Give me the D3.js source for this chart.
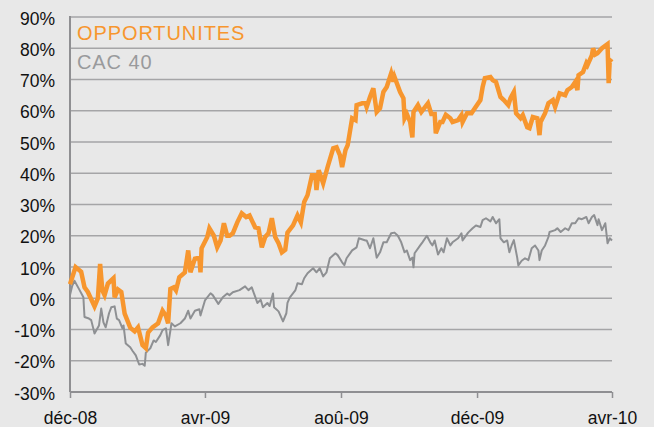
<!DOCTYPE html>
<html>
<head>
<meta charset="utf-8">
<script src="https://cdn.jsdelivr.net/npm/d3@7"></script>
<style>
  body { margin: 0; background: #e8e8e8; }
  svg { display: block; font-family: "Liberation Sans", Arial, sans-serif; }
</style>
</head>
<body>
<div id="chart"></div>
<script>
// performance since 1 Dec 2008, in % ; days counted from the start date
var startDate = new Date(2008, 11, 1);
var endDate = new Date(2010, 3, 1);

var oppDays = [0,5,10,13,16,22,25,27,29,31,34,39,40,43,46,49,54,58,61,64,65,68,70,74,79,83,86,88,90,93,95,98,103,106,108,112,116,117,118,123,125,129,132,135,138,141,143,146,150,154,158,161,166,169,172,175,178,181,184,187,190,193,195,200,204,207,210,213,217,220,221,223,227,231,236,239,242,244,247,249,253,256,257,262,265,266,269,272,275,278,281,284,288,290,291,296,299,300,302,305,307,308,312,315,318,321,324,327,328,332,334,337,341,343,348,351,352,356,360,363,368,370,372,377,379,382,385,386,389,393,395,398,400,404,406,410,412,415,419,421,422,426,429,433,435,439,444,446,450,453,455,456,460,463,464,468,469,471,473,477,482,483,484,486];
var oppValues = [4.5,10,8.5,3.5,2,-2.6,0,11,2.5,1,4.7,6.4,0.3,2.8,2,-4.9,-9.4,-10.6,-9.3,-13.5,-15,-16,-11,-9.3,-8,-4,-5.6,-8,3,3.5,2.5,6.7,8.3,15.3,8.3,12.7,13,8.3,16,19.5,22.4,20,16.3,18.5,24,20,20,20.8,24.3,27.2,26,26.5,22.7,22.4,16.3,19.6,20.8,25.6,19.6,17.6,14.7,15.5,21,23.3,26.5,24.3,30.8,33,39.4,39.4,34.6,41,36.8,42,48,48.3,45.8,42,47.4,49,57.6,57,61.8,62.4,62.4,61.2,64.4,67.2,59.6,60.8,66,67.6,72,69.3,70.8,66,64,57.6,59,56.4,51.5,59.6,61.8,59.6,61,62.4,59,59,52.8,56.4,56.4,58.7,57.6,56.4,57,58.6,56.4,59.2,59.2,60.8,63.4,67.6,70.4,70.8,69.8,69.2,65.6,64.4,63.4,61.8,64,66,59.2,57.6,58.6,54.7,54.4,58,57.6,52.2,56.4,59.2,62.4,63.4,61.2,65.6,65,66.6,67.6,69.2,66.6,71.4,72.4,75.2,74.6,77.8,80,78,78.4,80,81.3,68.8,76.2,75.6];

var cacDays = [0,2,4,8,12,13,17,19,22,26,28,30,32,35,37,40,42,44,47,48,50,54,56,59,62,65,67,68,72,75,77,81,83,86,88,91,94,99,103,106,108,112,116,117,121,126,128,133,137,141,143,146,152,157,160,163,168,171,173,177,179,182,183,187,191,194,195,197,202,204,208,210,213,218,221,224,227,230,233,238,240,244,246,248,253,257,259,265,266,269,272,275,278,281,284,288,291,294,297,300,302,305,307,308,309,314,316,320,323,325,327,330,333,335,338,341,343,348,351,352,357,361,364,368,370,373,377,379,382,385,386,389,392,394,396,398,401,402,405,408,411,414,417,420,421,423,426,429,430,435,437,440,444,447,450,453,456,459,463,465,468,470,473,474,477,480,482,484,486];
var cacValues = [1,4,5.6,3,0.3,-6,-6.5,-7,-11.3,-8.7,-3.3,-7.7,-9.3,-4.8,-2.9,-2.6,-6.5,-7,-9.6,-8.7,-14.5,-15.7,-16.8,-18.3,-21.2,-21,-21.6,-17.4,-16,-13.5,-14,-11.8,-10.2,-9.6,-15,-8,-9,-8,-6.5,-4,-6.5,-4,-3.5,-5.5,-0.7,1.6,1,-1.8,0.3,1.5,1,1.9,2.6,3.8,2.6,3.5,-1.5,-0.5,-2.9,-1.5,-2.5,1.5,-2.9,-4.2,-7.4,-4.8,-1.5,0.2,2.5,4.8,4.5,6.4,8,9.6,8.3,9.6,7,8.3,12.8,14.4,13.8,11.5,10.6,12.8,15.3,16.3,19.2,18.5,18.5,16,19.2,13,14.7,17.9,17.9,20.8,21,20,17.9,14.7,15.3,12.2,13,9.9,14.4,16.9,17.9,20,17.9,16.9,18.5,14,16,14.7,19.2,16.9,17.9,19.2,20.8,18.5,21,22.4,23.3,22.8,25,25.6,24.6,26,24,25.3,19.2,17.9,18.5,14.7,16.9,18.6,13,10.5,12,12.8,12.2,16,16.9,15.3,12.2,15.3,16.9,19.6,21.2,21.8,22.4,21.2,22.4,21.8,24,24,25.6,25.3,26,24,26,26.6,23.4,25.3,21.8,24,17.6,19.2,18.5];

var yTicks = [-30,-20,-10,0,10,20,30,40,50,60,70,80,90];
var xTickDates = [new Date(2008,11,1), new Date(2009,3,1), new Date(2009,7,1), new Date(2009,11,1), new Date(2010,3,1)];
var xTickLabels = ["déc-08","avr-09","aoû-09","déc-09","avr-10"];

var width = 654, height = 427;
var margin = {left: 70, right: 42, top: 17, bottom: 35};

var svg = d3.select("#chart").append("svg")
    .attr("width", width)
    .attr("height", height);

svg.append("rect").attr("width", width).attr("height", height).attr("fill", "#e8e8e8");

var x = d3.scaleTime()
    .domain([startDate, endDate])
    .range([margin.left, width - margin.right]);
var y = d3.scaleLinear()
    .domain([-30, 90])
    .range([height - margin.bottom, margin.top]);

// horizontal grid
svg.append("g").selectAll("line")
    .data(yTicks.filter(d => d > -30))
    .enter().append("line")
    .attr("x1", margin.left).attr("x2", width - margin.right)
    .attr("y1", d => y(d)).attr("y2", d => y(d))
    .attr("stroke", "#a5a5a7")
    .attr("stroke-width", 1.3);

// y labels
svg.append("g").selectAll("text")
    .data(yTicks)
    .enter().append("text")
    .attr("x", 55)
    .attr("y", d => y(d) + 7.5)
    .attr("text-anchor", "end")
    .attr("font-size", "17.5px")
    .attr("fill", "#111")
    .text(d => d + "%");

// x axis
var xAxis = d3.axisBottom(x)
    .tickValues(xTickDates)
    .tickSize(6)
    .tickFormat((d, i) => xTickLabels[i]);
var gx = svg.append("g")
    .attr("transform", "translate(0," + y(-30) + ")")
    .call(xAxis);
gx.select(".domain").attr("stroke", "#8f8f92").attr("stroke-width", 2).attr("d", "M" + margin.left + ",0H" + (width - margin.right));
gx.selectAll(".tick line").attr("stroke", "#8f8f92").attr("stroke-width", 1.5);
gx.selectAll(".tick text")
    .attr("font-family", "Liberation Sans, Arial, sans-serif")
    .attr("font-size", "17.5px")
    .attr("fill", "#111")
    .attr("y", 20)
    .attr("dy", "0.71em");

// y axis line
svg.append("line")
    .attr("x1", margin.left).attr("x2", margin.left)
    .attr("y1", margin.top - 1).attr("y2", y(-30))
    .attr("stroke", "#8f8f92").attr("stroke-width", 2);

var line = d3.line()
    .x(d => x(d3.timeDay.offset(startDate, d[0])))
    .y(d => y(d[1]));

svg.append("path")
    .datum(cacDays.map((d, i) => [d, cacValues[i]]))
    .attr("d", line)
    .attr("fill", "none")
    .attr("stroke", "#8e9093")
    .attr("stroke-width", 2)
    .attr("stroke-linejoin", "round");

svg.append("path")
    .datum(oppDays.map((d, i) => [d, oppValues[i]]))
    .attr("d", line)
    .attr("fill", "none")
    .attr("stroke", "#f7962e")
    .attr("stroke-width", 4.5)
    .attr("stroke-linejoin", "miter");

// legend
svg.append("text")
    .attr("x", 77).attr("y", 40)
    .attr("font-size", "20px")
    .attr("letter-spacing", "0.9px")
    .attr("fill", "#f7962e")
    .text("OPPORTUNITES");
svg.append("text")
    .attr("x", 77).attr("y", 69)
    .attr("font-size", "20px")
    .attr("letter-spacing", "0.9px")
    .attr("fill", "#999a9c")
    .text("CAC 40");
</script>
</body>
</html>
